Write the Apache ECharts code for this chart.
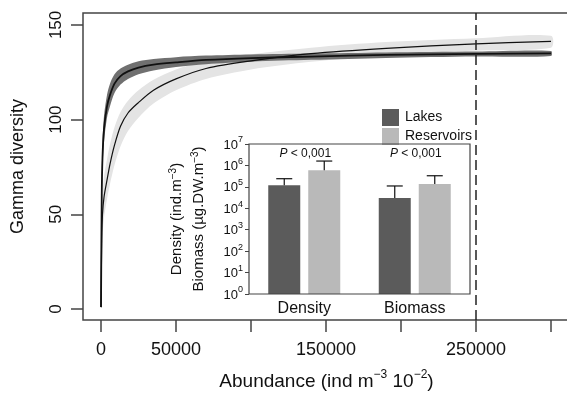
<!DOCTYPE html>
<html>
<head>
<meta charset="utf-8">
<script src="https://cdn.jsdelivr.net/npm/echarts@6/dist/echarts.min.js"></script>
<style>
    html, body { margin: 0; padding: 0; background: #fff; }
    #main { width: 567px; height: 394px; }
</style>
</head>
<body>
<div id="main"></div>
<script>
// rarefaction curves
var abundance = [0, 500, 1000, 2000, 4000, 6000, 9000, 13000, 18000, 25000, 35000, 50000, 70000, 100000, 140000, 190000, 250000, 300000];
var lakesMean = [1, 60, 80, 95, 107, 113, 119, 123, 125.5, 127.5, 129, 130.2, 131.5, 132.5, 133.3, 134.2, 134.7, 135];
var lakesLow  = [1, 52, 72, 88, 101, 107, 114, 118.5, 121.5, 124, 126, 127.8, 129.3, 130.6, 131.6, 132.6, 133.3, 133.6];
var lakesHigh = [1, 68, 88, 102, 113, 119, 124, 127, 129, 130.8, 132, 133, 133.8, 134.4, 134.9, 135.5, 136, 136.3];
var resMean = [1, 38, 50, 59, 68, 76.5, 86.5, 96.5, 103.5, 109, 115.5, 121.5, 127, 131, 134.8, 137.6, 140, 141.3];
var resLow  = [1, 25, 38, 48, 58, 66, 76, 86, 94, 101, 108.5, 115.5, 121.5, 126.5, 130.5, 133.8, 136.5, 138];
var resHigh = [1, 45, 60, 70, 79, 87, 96, 104, 110, 115.5, 121, 126.5, 131, 134.5, 138, 141, 143, 144.3];
var cutoff = 250000;
var xTicks = [0, 50000, 100000, 150000, 200000, 250000, 300000];
var xLabels = [0, 50000, 150000, 250000];
var yTicks = [0, 50, 100, 150];

// inset: mean and upper error
var insetCats = ['Density', 'Biomass'];
var lakesBar = [1.2e5, 3e4];
var lakesErr = [2.4e5, 1.1e5];
var resBar = [6e5, 1.35e5];
var resErr = [1.6e6, 3.3e5];
var pLabels = ['{i|P} < 0,001', '{i|P} < 0,001'];

var dom = document.getElementById('main');
var myChart = echarts.init(dom, null, { renderer: 'canvas' });

// confidence band as a polygon through the library's coords
function bandItem(lo, hi, color) {
    return function (params, api) {
        var pts = [];
        for (var i = 0; i < abundance.length; i++) pts.push(api.coord([abundance[i], hi[i]]));
        for (var j = abundance.length - 1; j >= 0; j--) pts.push(api.coord([abundance[j], lo[j]]));
        return { type: 'polygon', shape: { points: pts, smooth: 0.3 }, style: { fill: color } };
    };
}
// mean curve
function curveItem(ys, width) {
    return function (params, api) {
        var pts = abundance.map(function (x, i) { return api.coord([x, ys[i]]); });
        return { type: 'polyline', shape: { points: pts, smooth: 0.3 }, style: { stroke: '#111', lineWidth: width, fill: null } };
    };
}
function errItem(offset) {
    return function (params, api) {
        var base = api.coord([api.value(0), api.value(1)]);
        var top = api.coord([api.value(0), api.value(2)]);
        var x = base[0] + offset;
        return {
            type: 'group',
            children: [
                { type: 'line', shape: { x1: x, y1: base[1], x2: x, y2: top[1] }, style: { stroke: '#111', lineWidth: 1.2 } },
                { type: 'line', shape: { x1: x - 8, y1: top[1], x2: x + 8, y2: top[1] }, style: { stroke: '#111', lineWidth: 1.2 } }
            ]
        };
    };
}

var option = {
    animation: false,
    textStyle: { fontFamily: 'Liberation Sans', color: '#111' },
    legend: {
        data: ['Lakes', 'Reservoirs'],
        orient: 'vertical',
        left: 377,
        top: 104,
        itemWidth: 17,
        itemHeight: 17,
        itemGap: 2,
        icon: 'rect',
        textStyle: { fontSize: 14, color: '#111', padding: [0, 0, 0, 1] }
    },
    grid: [
        { left: 83, top: 13, right: -3, bottom: 74, show: true, borderColor: '#444', borderWidth: 1.5, outerBoundsMode: 'none' },
        { left: 249, top: 144, width: 221, height: 150, show: true, z: 5, borderColor: '#444', borderWidth: 1.2, outerBoundsMode: 'none' }
    ],
    xAxis: [
        {
            type: 'value', gridIndex: 0, min: -12000, max: 312667,
            axisLine: { show: false, onZero: false },
            splitLine: { show: false },
            axisTick: { show: true, customValues: xTicks, length: 12, lineStyle: { color: '#444', width: 1.5 } },
            axisLabel: { customValues: xLabels, fontSize: 18, color: '#111', margin: 21, formatter: function (v) { return String(v); } },
            name: 'Abundance (ind m{s|−3} 10{s|−2})',
            nameLocation: 'middle',
            nameGap: 49,
            nameTextStyle: { fontSize: 19, color: '#111', rich: { s: { fontSize: 12, padding: [0, 0, 14, 0] } } }
        },
        {
            type: 'category', gridIndex: 1, data: insetCats, z: 5,
            axisLine: { show: false },
            axisTick: { alignWithLabel: true, length: 4, lineStyle: { color: '#444' } },
            axisLabel: { fontSize: 16, color: '#111', margin: 7 }
        }
    ],
    yAxis: [
        {
            type: 'value', gridIndex: 0, min: -5.8, max: 156.3,
            axisLine: { show: false, onZero: false },
            splitLine: { show: false },
            axisTick: { show: true, customValues: yTicks, length: 12, lineStyle: { color: '#444', width: 1.5 } },
            axisLabel: { customValues: yTicks, rotate: 90, fontSize: 17, color: '#111', margin: 18 },
            name: 'Gamma diversity',
            nameLocation: 'middle',
            nameRotate: 90,
            nameGap: 56,
            nameTextStyle: { fontSize: 18, color: '#111' }
        },
        {
            type: 'log', gridIndex: 1, logBase: 10, min: 1, max: 1e7, interval: 1, z: 5,
            axisLine: { show: false, onZero: false },
            splitLine: { show: false },
            axisTick: { show: true, length: 4, lineStyle: { color: '#444' } },
            axisLabel: {
                margin: 6,
                formatter: function (v) { return '{b|10}{s|' + Math.round(Math.log10(v)) + '}'; },
                rich: {
                    b: { fontSize: 13, color: '#111', padding: [2, 0, 0, 0] },
                    s: { fontSize: 9, color: '#111', padding: [0, 0, 8, 0] }
                }
            },
            name: 'Density (ind.m{s|−3})\nBiomass (µg.DW.m{s|−3})',
            nameLocation: 'middle',
            nameRotate: 90,
            nameGap: 39,
            nameTextStyle: { fontSize: 15, lineHeight: 22, color: '#111', rich: { s: { fontSize: 10, padding: [0, 0, 8, 0] } } }
        }
    ],
    series: [
        // confidence bands
        { type: 'custom', silent: true, z: 1, data: [[0, 1]], encode: { x: 0, y: 1 }, renderItem: bandItem(resLow, resHigh, '#e4e4e4') },
        { type: 'custom', silent: true, z: 1, data: [[0, 1]], encode: { x: 0, y: 1 }, renderItem: bandItem(lakesLow, lakesHigh, '#707070') },
        // mean curves
        { type: 'custom', silent: true, z: 2, data: [[0, 1]], encode: { x: 0, y: 1 }, renderItem: curveItem(resMean, 1.2) },
        {
            type: 'custom', silent: true, z: 2, data: [[0, 1]], encode: { x: 0, y: 1 }, renderItem: curveItem(lakesMean, 1.8),
            markLine: {
                silent: true, symbol: 'none', label: { show: false },
                lineStyle: { color: '#222', width: 1.5, type: [10, 5] },
                data: [{ xAxis: cutoff }]
            }
        },
        // inset
        { name: 'Lakes', type: 'bar', xAxisIndex: 1, yAxisIndex: 1, data: lakesBar, barWidth: 32, barGap: '25%', itemStyle: { color: '#5b5b5b' } },
        { name: 'Reservoirs', type: 'bar', xAxisIndex: 1, yAxisIndex: 1, data: resBar, barWidth: 32, barGap: '25%', itemStyle: { color: '#b9b9b9' } },
        {
            type: 'custom', xAxisIndex: 1, yAxisIndex: 1, z: 3,
            data: insetCats.map(function (c, i) { return [i, lakesBar[i], lakesErr[i]]; }),
            encode: { x: 0, y: [1, 2] },
            renderItem: errItem(-20)
        },
        {
            type: 'custom', xAxisIndex: 1, yAxisIndex: 1, z: 3,
            data: insetCats.map(function (c, i) { return [i, resBar[i], resErr[i]]; }),
            encode: { x: 0, y: [1, 2] },
            renderItem: errItem(20)
        },
        {
            type: 'custom', xAxisIndex: 1, yAxisIndex: 1, z: 4,
            data: insetCats.map(function (c, i) { return [i, 1e7]; }),
            encode: { x: 0, y: 1 },
            renderItem: function (params, api) {
                var p = api.coord([api.value(0), api.value(1)]);
                return {
                    type: 'text',
                    style: {
                        text: pLabels[params.dataIndex],
                        x: p[0] + 1, y: p[1] + 10,
                        align: 'center', verticalAlign: 'middle',
                        fontSize: 12, fontFamily: 'Liberation Sans', fill: '#111',
                        rich: { i: { fontStyle: 'italic', fontSize: 12, fontFamily: 'Liberation Sans', fill: '#111' } }
                    }
                };
            }
        }
    ]
};

myChart.setOption(option);
</script>
</body>
</html>
